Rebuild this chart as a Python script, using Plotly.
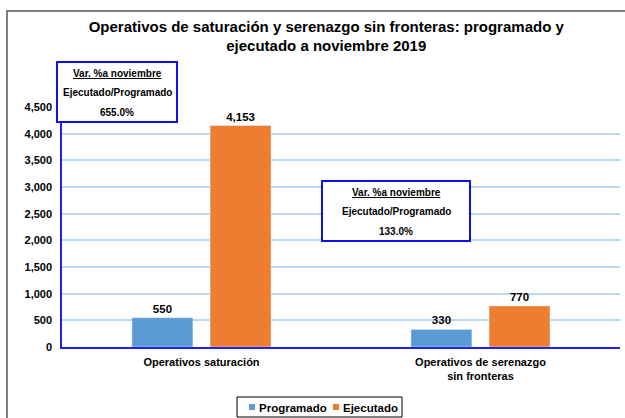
import plotly.graph_objects as go

categorias = ["Operativos saturación", "Operativos de serenazgo<br>sin fronteras"]
programado = [550, 330]
ejecutado = [4153, 770]
variacion = ["655.0%", "133.0%"]
ticks_y = [0, 500, 1000, 1500, 2000, 2500, 3000, 3500, 4000, 4500]
series = ["Programado", "Ejecutado"]

fuente = "Liberation Sans, Arial, sans-serif"
azul = "#5B9BD5"
naranja = "#ED7D31"

fig = go.Figure()
fig.add_trace(go.Bar(
    x=categorias, y=programado, name=series[0],
    marker_color=azul,
    text=programado, texttemplate="%{y:,}", textposition="outside",
    textfont=dict(size=11.5, color="black", weight="bold"),
    cliponaxis=False,
))
fig.add_trace(go.Bar(
    x=categorias, y=ejecutado, name=series[1],
    marker_color=naranja,
    text=ejecutado, texttemplate="%{y:,}", textposition="outside",
    textfont=dict(size=11.5, color="black", weight="bold"),
    cliponaxis=False,
))

def px(X):
    return (X - 62) / 558

def py(Y):
    return (347 - Y) / 240

# cajas de variacion: rectangulo + tres lineas de texto
cajas = [(57, 177, 62, 122), (322, 470, 181, 241)]
for (x0, x1, y0, y1), v in zip(cajas, variacion):
    fig.add_shape(type="rect", xref="paper", yref="paper",
                  x0=px(x0), x1=px(x1), y0=py(y1), y1=py(y0),
                  line=dict(color="#1010E0", width=2), fillcolor="white",
                  layer="above")
    cx = px((x0 + x1) / 2)
    lineas = ["<u>Var. %a noviembre</u>", "Ejecutado/Programado", v]
    for i, t in enumerate(lineas):
        fig.add_annotation(
            xref="paper", yref="paper", x=cx, y=py(y0 + 11 + 19.5 * i),
            text=t, showarrow=False, xanchor="center", yanchor="middle",
            font=dict(family=fuente, size=10, color="black", weight="bold"),
        )

# leyenda dibujada a mano (cuadritos pequenos pegados al texto)
fig.add_shape(type="rect", xref="paper", yref="paper",
              x0=px(237), x1=px(402), y0=py(417), y1=py(397),
              line=dict(color="black", width=1), fillcolor="white")
for nombre, color, sx in zip(series, [azul, naranja], [249, 333]):
    fig.add_shape(type="rect", xref="paper", yref="paper",
                  x0=px(sx), x1=px(sx + 6), y0=py(410), y1=py(404),
                  line=dict(width=0), fillcolor=color)
    fig.add_annotation(
        xref="paper", yref="paper", x=px(sx + 8), y=py(407.5),
        text=nombre, showarrow=False, xanchor="left", yanchor="middle",
        font=dict(family=fuente, size=11.5, color="black", weight="bold"),
    )

# marco exterior
fig.add_shape(type="rect", xref="paper", yref="paper",
              x0=px(7), x1=px(640), y0=py(430), y1=py(11),
              line=dict(color="#555555", width=1.5), layer="below")

fig.update_layout(
    width=625, height=418,
    margin=dict(l=62, r=5, t=107, b=71, autoexpand=False),
    paper_bgcolor="white", plot_bgcolor="white",
    font=dict(family=fuente, color="black"),
    title=dict(
        text="Operativos de saturación y serenazgo sin fronteras: programado y<br>ejecutado a noviembre 2019",
        x=0.522, xanchor="center", y=0.924, yanchor="top",
        font=dict(size=15, weight="bold", family=fuente),
    ),
    barmode="group", bargap=0.44, bargroupgap=0.22,
    showlegend=False,
)
fig.update_yaxes(
    range=[0, 4500], tickvals=ticks_y, tickformat=",",
    showgrid=True, gridcolor="#BDD7EE", gridwidth=1.5,
    showline=True, linecolor="#2020F0", linewidth=1.5,
    tickfont=dict(size=11, weight="bold"), ticks="", zeroline=False,
    ticklabelstandoff=6,
)
fig.update_xaxes(
    showline=True, linecolor="#2020F0", linewidth=1.5,
    tickfont=dict(size=11, weight="bold"), ticks="",
    ticklabelstandoff=4,
)

fig.write_html("out.html", config={"displayModeBar": False},
               post_script="document.body.style.margin='0';")
